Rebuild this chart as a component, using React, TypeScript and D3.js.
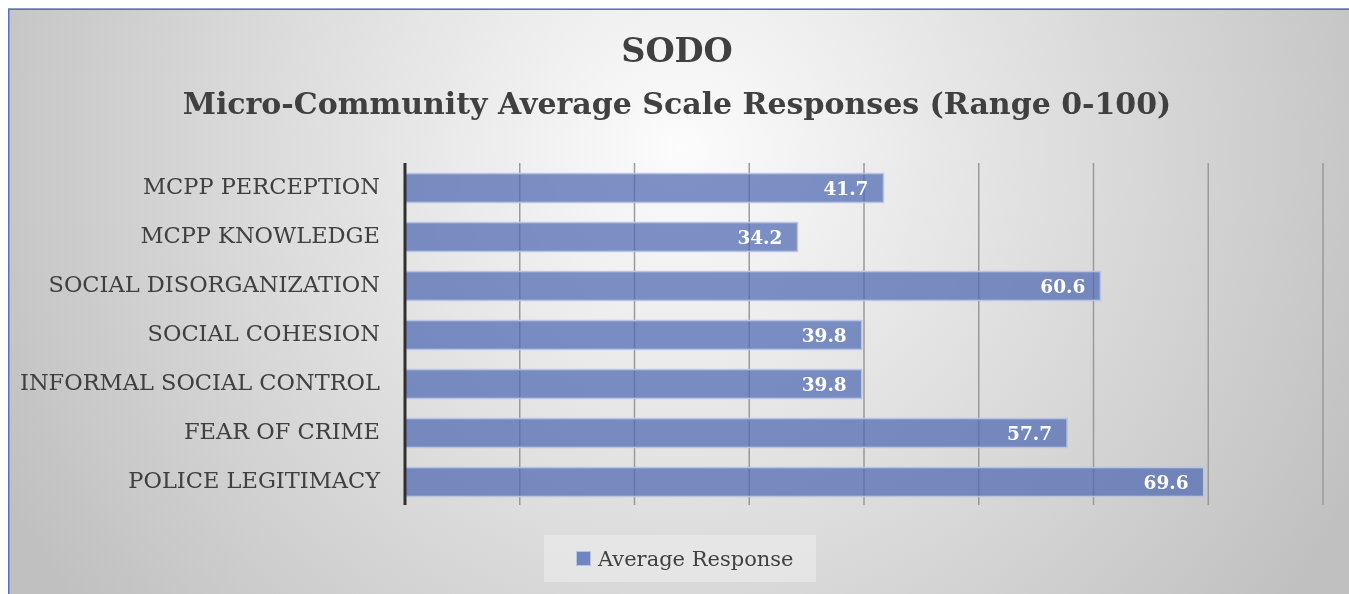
import React from "react";
import * as d3 from "d3";

const categories = [
  "MCPP PERCEPTION",
  "MCPP KNOWLEDGE",
  "SOCIAL DISORGANIZATION",
  "SOCIAL COHESION",
  "INFORMAL SOCIAL CONTROL",
  "FEAR OF CRIME",
  "POLICE LEGITIMACY",
];
const values = [41.7, 34.2, 60.6, 39.8, 39.8, 57.7, 69.6];
const ticks = [0, 10, 20, 30, 40, 50, 60, 70, 80];
const titleLines = ["SODO", "Micro-Community  Average Scale Responses (Range 0-100)"];
const seriesName = "Average Response";

const W = 1341;
const H = 586;
const FONT = "'DejaVu Serif', 'Liberation Serif', serif";

export default function App() {
  // svg origin is at page (8,8)
  const x = d3.scaleLinear().domain([0, 80]).range([397, 1315]);
  const y = d3.scaleBand<string>().domain(categories).range([155.5, 498.5]).paddingInner(0.41).paddingOuter(0.205);
  const gridTop = 155;
  const gridBottom = 497;
  return (
    <svg width={W} height={H} style={{ display: "block", position: "fixed", left: 8, top: 8 }} fontFamily={FONT}>
      <defs>
        <radialGradient id="bg" gradientUnits="userSpaceOnUse" cx={672} cy={140} r={760} fx={672} fy={140}>
          <stop offset="0%" stopColor="#fcfcfc" />
          <stop offset="100%" stopColor="#c0c0c0" />
        </radialGradient>
      </defs>
      <rect x={0} y={0} width={W} height={H} fill="url(#bg)" />
      <line x1={0.75} y1={1} x2={0.75} y2={H} stroke="#5b6fbd" strokeWidth={1.5} />
      <line x1={0} y1={1.25} x2={W} y2={1.25} stroke="#5b6fbd" strokeWidth={1.5} />
      {titleLines.map((t, i) => (
        <text key={i} x={669} y={i === 0 ? 54 : 106} textAnchor="middle" fontWeight="bold"
          fontSize={i === 0 ? 33.5 : 30} fill="#404040">{t}</text>
      ))}
      {ticks.slice(1).map((t) => (
        <line key={t} x1={x(t)} x2={x(t)} y1={gridTop} y2={gridBottom} stroke="#9a9a9a" strokeWidth={1.5} />
      ))}
      {categories.map((c, i) => {
        const y0 = y(c)!;
        const bw = y.bandwidth();
        return (
          <g key={c}>
            <rect x={x(0)} y={y0} width={x(values[i]) - x(0)} height={bw}
              fill="#4d68b2" fillOpacity={0.72} stroke="#b8c4e4" strokeWidth={1.5} />
            <text x={x(values[i]) - 15} y={y0 + bw / 2 + 7} textAnchor="end" fontWeight="bold"
              fontSize={18.5} fill="#ffffff">{values[i].toFixed(1)}</text>
            <text x={372} y={y0 + bw / 2 + 6} textAnchor="end" fontSize={22.5} fill="#404040">{c}</text>
          </g>
        );
      })}
      <line x1={x(0)} x2={x(0)} y1={gridTop} y2={gridBottom} stroke="#303030" strokeWidth={3} />
      <rect x={536} y={527} width={272} height={47} fill="#ececec" fillOpacity={0.6} />
      <rect x={568.5} y={543.5} width={14} height={14} fill="#6f84c0" stroke="#b8c4e4" strokeWidth={1} />
      <text x={590} y={558} fontSize={21} fill="#404040">{seriesName}</text>
    </svg>
  );
}
